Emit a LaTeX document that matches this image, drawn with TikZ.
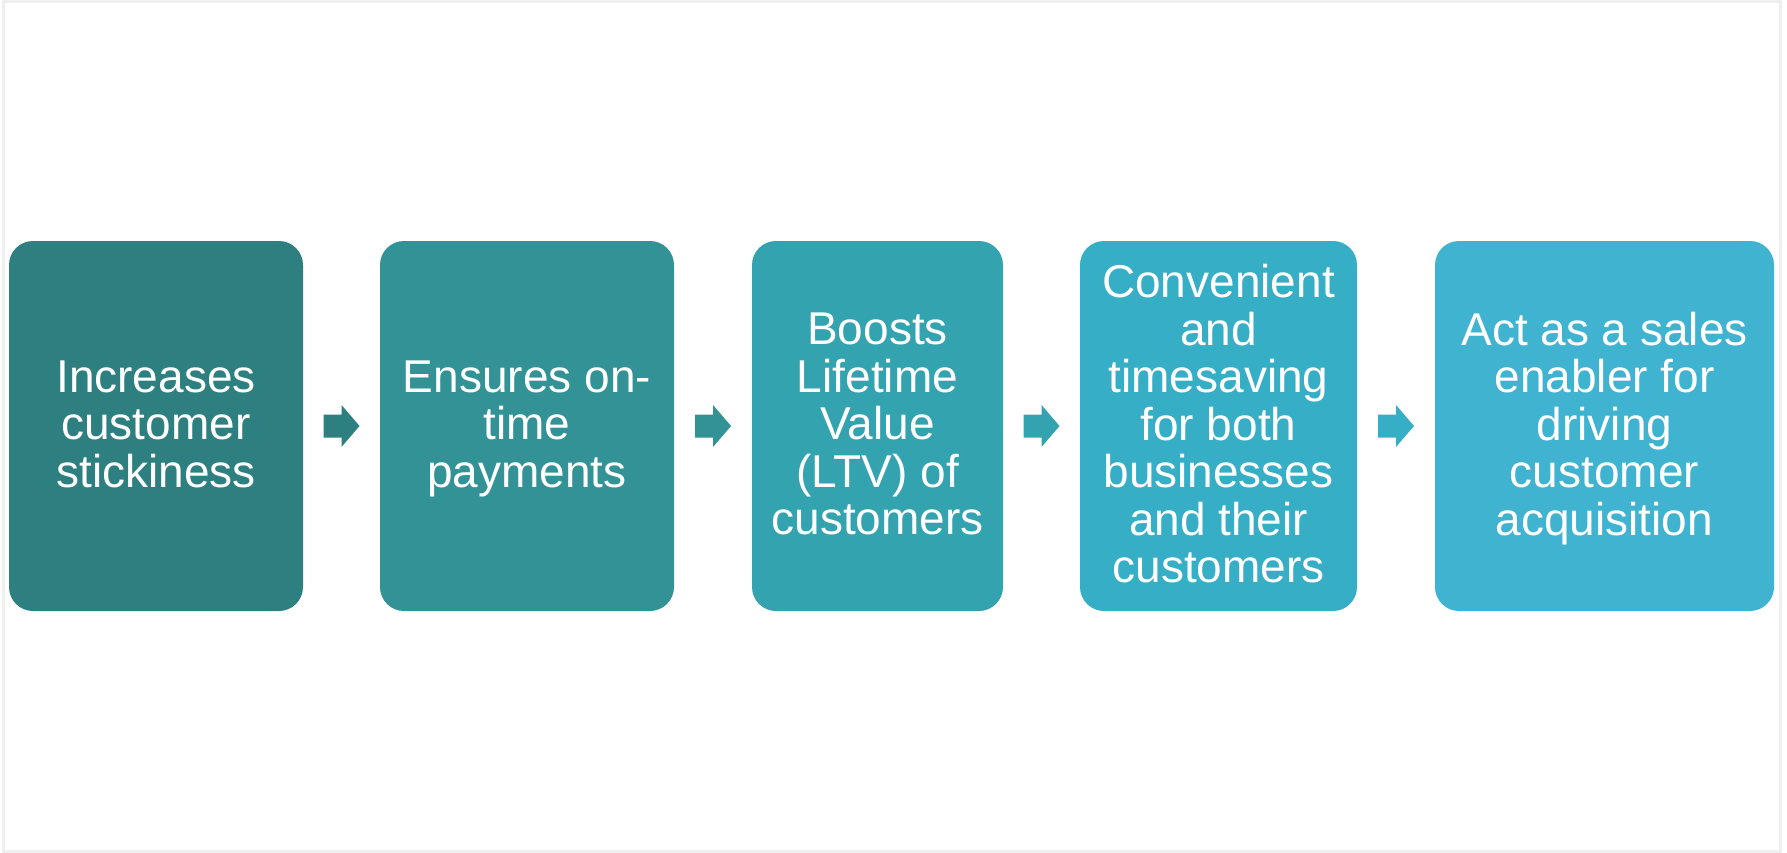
\documentclass[tikz,border=0pt]{standalone}
\usepackage{fontspec}
\setmainfont{Liberation Sans}
\usetikzlibrary{calc}
\definecolor{cA}{RGB}{46,128,128}
\definecolor{cB}{RGB}{50,146,150}
\definecolor{cC}{RGB}{51,163,175}
\definecolor{cD}{RGB}{53,174,198}
\definecolor{cE}{RGB}{64,179,209}
\definecolor{frame}{RGB}{239,239,239}
\tikzset{
  box/.style={rounded corners=24pt, minimum height=370pt, inner sep=0pt,
    text=white, align=center, text depth=4.6pt,
    font=\fontsize{46}{47.5}\selectfont},
}
\newcommand{\blockarrow}[2]{%
  \fill[#2] (#1) ++(-18,-11.5) -- ++(18,0) -- ++(0,-9.5) -- ++(18,21)
    -- ++(-18,21) -- ++(0,-9.5) -- ++(-18,0) -- cycle;}
\begin{document}
\begin{tikzpicture}[x=1pt,y=-1pt]
\useasboundingbox (0,0) rectangle (1787,853);
\fill[white] (0,0) rectangle (1787,853);
\draw[frame, line width=3pt] (3.5,1.5) rectangle (1780.5,851.5);

\node[box, fill=cA, minimum width=294pt] (b1) at (156,426)
  {Increases\\customer\\stickiness};
\node[box, fill=cB, minimum width=294pt] (b2) at (527,426)
  {Ensures on-\\time\\payments};
\node[box, fill=cC, minimum width=251pt] (b3) at (877.5,426)
  {Boosts\\Lifetime\\Value\\(LTV) of\\customers};
\node[box, fill=cD, minimum width=277pt] (b4) at (1218.5,426)
  {Convenient\\and\\timesaving\\for both\\businesses\\and their\\customers};
\node[box, fill=cE, minimum width=339pt] (b5) at (1604.5,426)
  {Act as a sales\\enabler for\\driving\\customer\\acquisition};

\coordinate (m1) at ($(b1.east)!0.5!(b2.west)$);
\coordinate (m2) at ($(b2.east)!0.5!(b3.west)$);
\coordinate (m3) at ($(b3.east)!0.5!(b4.west)$);
\coordinate (m4) at ($(b4.east)!0.5!(b5.west)$);
\blockarrow{m1}{cA}
\blockarrow{m2}{cB}
\blockarrow{m3}{cC}
\blockarrow{m4}{cD}
\end{tikzpicture}
\end{document}
